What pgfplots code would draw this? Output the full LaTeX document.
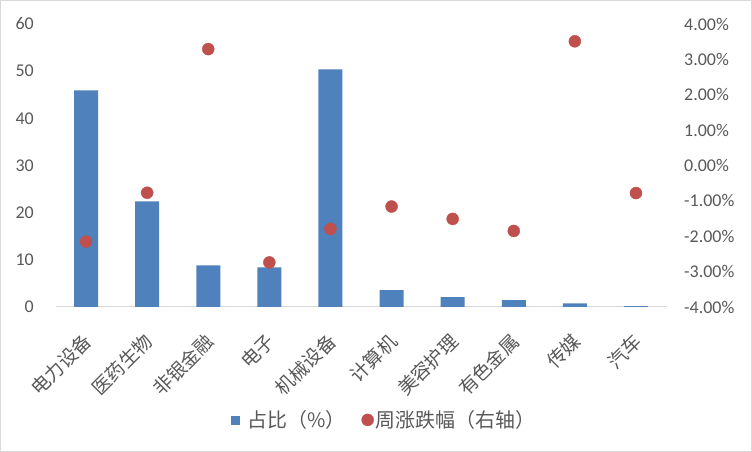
\documentclass[border=0pt]{standalone}
\usepackage{pgfplots}
\pgfplotsset{compat=1.18}
\usepackage{fontspec}
\setmainfont{Carlito}
\newfontfamily\cjk{Noto Sans CJK SC}
\definecolor{barblue}{HTML}{4F81BD}
\definecolor{dotred}{HTML}{C0504D}
\definecolor{txt}{HTML}{595959}
\definecolor{axgray}{HTML}{D9D9D9}
\definecolor{framegray}{HTML}{D9D9D9}

\pgfplotstableread{
x share
0 45.9
1 22.4
2 8.85
3 8.4
4 50.4
5 3.55
6 2.07
7 1.43
8 0.78
9 0.2
}\sharedata

\pgfplotstableread{
x chg
0 -2.15
1 -0.77
2 3.29
3 -2.74
4 -1.79
5 -1.16
6 -1.51
7 -1.85
8 3.51
9 -0.78
}\chgdata

\begin{document}
\begin{tikzpicture}[x=1bp,y=1bp]
\fill[white] (0,0) rectangle (752,452);
\draw[framegray, line width=1bp] (0.5,0.5) rectangle (751.5,451.5);
\begin{axis}[
  at={(55.5bp,145bp)}, anchor=south west,
  scale only axis, width=611bp, height=283bp,
  xmin=-0.5, xmax=9.5, ymin=0, ymax=60,
  axis x line*=bottom, axis y line*=left,
  y axis line style={draw=none},
  x axis line style={axgray, line width=1bp, -},
  major tick length=0pt,
  ytick={0,10,...,60},
  xtick={0,...,9},
  xticklabels={电力设备,医药生物,非银金融,电子,机械设备,计算机,美容护理,有色金属,传媒,汽车},
  xticklabel style={font=\cjk\fontsize{19}{21}\selectfont, text=txt, inner sep=0pt, xshift=2bp, yshift=-31bp, rotate=45, anchor=east},
  yticklabel style={font=\fontsize{18}{20}\selectfont, text=txt, anchor=east, inner sep=0pt, xshift=-21.5bp},
  /pgf/number format/assume math mode=true,
  clip=false,
]
\addplot[ybar, bar width=24bp, fill=barblue, draw=none] table[x=x, y=share] {\sharedata};
\end{axis}
\begin{axis}[
  at={(55.5bp,145bp)}, anchor=south west,
  scale only axis, width=611bp, height=283bp,
  xmin=-0.5, xmax=9.5, ymin=-4, ymax=4,
  axis y line*=right, axis x line=none,
  y axis line style={draw=none},
  major tick length=0pt,
  ytick={-4,-3,...,4},
  yticklabels={-4.00\%,-3.00\%,-2.00\%,-1.00\%,0.00\%,1.00\%,2.00\%,3.00\%,4.00\%},
  yticklabel style={font=\fontsize{18}{20}\selectfont, text=txt, anchor=west, inner sep=0pt, text width=60bp, align=left, xshift=17.5bp},
  clip=false,
  legend style={at={(0.538,-0.399)}, anchor=center, draw=none, fill=none, legend columns=2,
    font=\cjk\fontsize{20}{22}\selectfont, text=txt,
    /tikz/every even column/.append style={column sep=14bp}},
]
\addlegendimage{legend image code/.code={\fill[barblue] (0bp,-4bp) rectangle (8bp,4bp); \path[draw=none, fill=none] (0bp,0bp) (14bp,0bp);}}
\addlegendentry{占比（\%）}
\addplot[only marks, mark=*, mark size=6bp, color=dotred] table[x=x, y=chg] {\chgdata};
\addlegendentry{周涨跌幅（右轴）}
\end{axis}
\end{tikzpicture}
\end{document}
